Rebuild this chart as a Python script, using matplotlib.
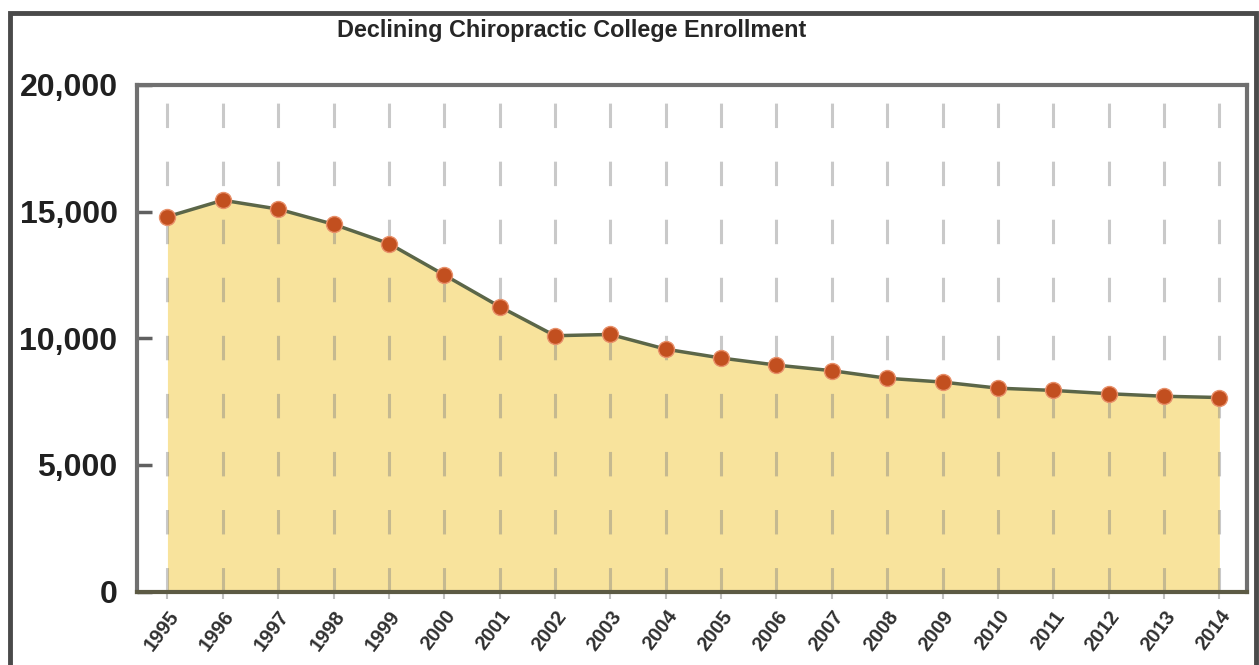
import matplotlib.pyplot as plt
from matplotlib.patches import Rectangle
import numpy as np

# enrollment values
years = ['1995', '1996', '1997', '1998', '1999', '2000', '2001', '2002', '2003', '2004',
         '2005', '2006', '2007', '2008', '2009', '2010', '2011', '2012', '2013', '2014']
enrollment = [14800, 15450, 15100, 14500, 13740, 12500, 11250, 10100, 10150, 9570,
              9220, 8940, 8720, 8420, 8270, 8030, 7940, 7810, 7710, 7660]
y_ticks = [0, 5000, 10000, 15000, 20000]
y_tick_labels = ['0', '5,000', '10,000', '15,000', '20,000']
title = 'Declining Chiropractic College Enrollment'

plt.rcParams['font.family'] = ['Liberation Sans', 'DejaVu Sans']

fig = plt.figure(figsize=(12.59, 6.65), dpi=100)
ax = fig.add_axes([0.1088, 0.1105, 0.8817, 0.7617])

x = np.arange(len(years))

# filled area under the curve
ax.fill_between(x, enrollment, 0, color='#f8e39c', zorder=1, linewidth=0)

# vertical dashed grid on each year
for xi in x:
    ax.axvline(xi, color='#808080', alpha=0.42, linewidth=2.2,
               dashes=(8, 11), zorder=2)

ax.plot(x, enrollment, color='#5b6648', linewidth=2.5, zorder=3)
ax.plot(x, enrollment, linestyle='none', marker='o', markersize=11.5,
        markerfacecolor='#c24f1f', markeredgecolor='#e8906a', markeredgewidth=1.0, zorder=4)

ax.set_xlim(-0.55, len(years) - 0.5)
ax.set_ylim(0, 20000)
ax.set_yticks(y_ticks)
ax.set_yticklabels(y_tick_labels, fontsize=23, fontweight='bold', color='#202020')
ax.set_xticks(x)
ax.set_xticklabels(years, rotation=53, ha='right', rotation_mode='anchor',
                   fontsize=14.5, fontweight='bold', color='#303030')

ax.tick_params(axis='y', direction='in', length=11, width=2.5, color='#606060', pad=14)
ax.tick_params(axis='x', direction='out', length=5, width=1.5, color='#c0c0c0', pad=6)

for side in ['left', 'right', 'top']:
    ax.spines[side].set_color('#707070')
    ax.spines[side].set_linewidth(3)
ax.spines['bottom'].set_color('#5c5a44')
ax.spines['bottom'].set_linewidth(3)

fig.text(572 / 1259, 1 - 30 / 665, title, ha='center', va='center',
         fontsize=16.8, fontweight='bold', color='#262626')

# outer frame around the whole picture
frame = Rectangle((10 / 1259, -0.05), 1246 / 1259, 1 - 13 / 665 + 0.05,
                  transform=fig.transFigure, fill=False, edgecolor='#4a4a4a',
                  linewidth=3.5, clip_on=False)
fig.patches.append(frame)

fig.savefig('out.png', dpi=100)
